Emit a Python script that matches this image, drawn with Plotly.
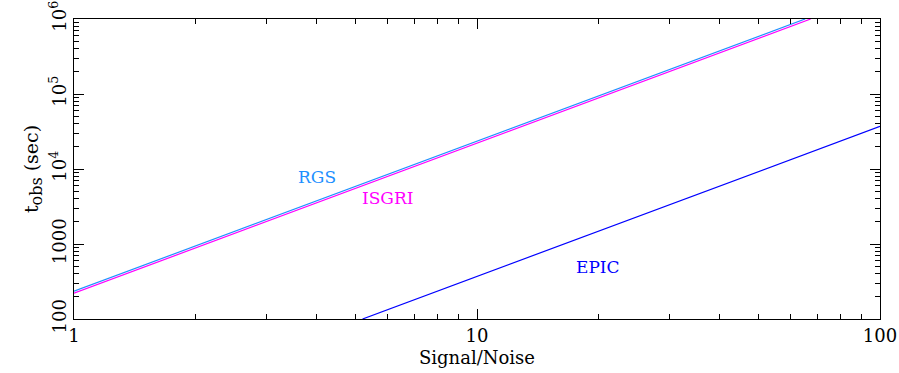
import math
import plotly.graph_objects as go

# Data (log-log, t_obs vs Signal/Noise)
rgs_sn = [1, 10, 65.2]
rgs_t = [235, 23500, 1.0e6]
isgri_sn = [1, 10, 67.3]
isgri_t = [221, 22100, 1.0e6]
epic_sn = [5.2, 10, 100]
epic_t = [100, 370, 37000]

labels = ["RGS", "ISGRI", "EPIC"]
label_x = [4.01, 6.01, 19.96]
label_y = [7820, 4100, 494]
colors = ["#1E90FF", "#FF00FF", "#0000FF"]

x_ticks = [1, 10, 100]
x_ticktext = ["1", "10", "100"]
y_ticks = [100, 1000, 1e4, 1e5, 1e6]
y_ticktext = ["100", "1000", "10<sup>4</sup>", "10<sup>5</sup>", "10<sup>6</sup>"]
x_minor = [m * d for d in [1, 10] for m in range(2, 10)]
y_minor = [m * d for d in [100, 1000, 1e4, 1e5] for m in range(2, 10)]

FONT = "DejaVu Serif"

fig = go.Figure()
for sn, t, c in [(rgs_sn, rgs_t, colors[0]), (isgri_sn, isgri_t, colors[1]), (epic_sn, epic_t, colors[2])]:
    fig.add_trace(go.Scatter(x=sn, y=t, mode="lines", line=dict(color=c, width=1.2),
                             showlegend=False, hoverinfo="skip"))
# invisible trace carrying the minor-tick overlay axes
fig.add_trace(go.Scatter(x=[1, 100], y=[100, 1e6], xaxis="x2", yaxis="y2", mode="lines",
                         line=dict(width=0), opacity=0, showlegend=False, hoverinfo="skip"))

for txt, lx, ly, c in zip(labels, label_x, label_y, colors):
    fig.add_annotation(x=math.log10(lx), y=math.log10(ly), text=txt, showarrow=False,
                       font=dict(family=FONT, size=17, color=c), xref="x", yref="y")

axis_common = dict(
    showline=True, linecolor="black", linewidth=1.2, mirror="ticks",
    ticks="inside", ticklen=10, tickwidth=1, tickcolor="black",
    showgrid=False, zeroline=False, automargin=False,
    tickfont=dict(family=FONT, size=18, color="black"),
)
minor_common = dict(
    showline=False, mirror="ticks", ticks="inside", ticklen=5, tickwidth=1, tickcolor="black",
    showgrid=False, zeroline=False, automargin=False, showticklabels=False,
)

fig.update_layout(
    xaxis=dict(type="log", range=[0, 2], tickvals=x_ticks, ticktext=x_ticktext,
               title=dict(text="Signal/Noise", font=dict(family=FONT, size=18, color="black"), standoff=6),
               **axis_common),
    yaxis=dict(type="log", range=[2, 6], tickvals=y_ticks, ticktext=y_ticktext, tickangle=-90,
               title=dict(text="t<sub><span style='font-size:16px'>obs</span></sub> (sec)",
                          font=dict(family=FONT, size=19, color="black"), standoff=2),
               **axis_common),
    xaxis2=dict(type="log", range=[0, 2], overlaying="x", anchor="y2", side="bottom",
                tickvals=x_minor, **minor_common),
    yaxis2=dict(type="log", range=[2, 6], overlaying="y", anchor="x2", side="left",
                tickvals=y_minor, **minor_common),
)

fig.update_layout(width=899, height=373, margin=dict(l=74, r=19, t=19, b=54),
                  plot_bgcolor="white", paper_bgcolor="white")

fig.write_html("out.html", config={"displayModeBar": False},
               post_script="document.body.style.margin='0';document.documentElement.style.overflow='hidden';")
